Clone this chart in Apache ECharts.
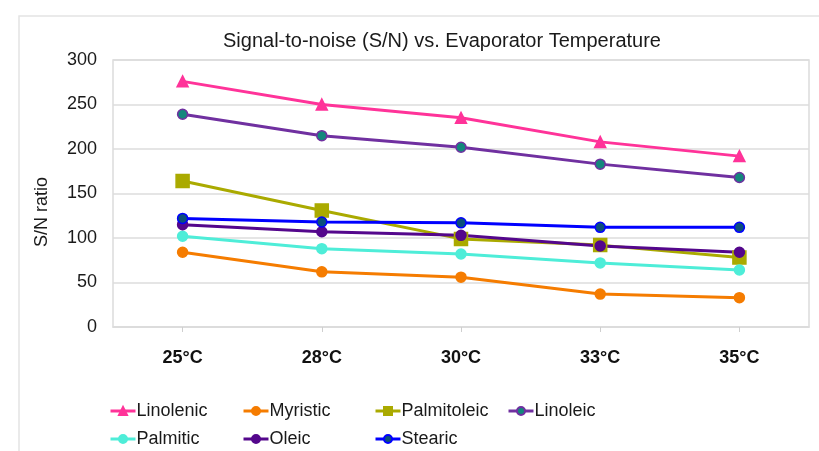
<!DOCTYPE html>
<html>
<head>
<meta charset="utf-8">
<script src="https://cdn.jsdelivr.net/npm/echarts@6/dist/echarts.min.js"></script>
<style>
html,body{margin:0;padding:0;background:#fff;}
#chart{width:819px;height:451px;}
</style>
</head>
<body>
<div id="chart"></div>
<script>
const categories = ['25°C', '28°C', '30°C', '33°C', '35°C'];
const linolenic   = [276, 250, 235, 208, 192];
const myristic    = [84, 62, 56, 37, 33];
const palmitoleic = [164, 131, 99, 92, 78];
const linoleic    = [239, 215, 202, 183, 168];
const palmitic    = [102, 88, 82, 72, 64];
const oleic       = [115, 107, 103, 91, 84];
const stearic     = [122, 118, 117, 112, 112];

const FONT = '"Liberation Sans", Arial, sans-serif';

const seriesDefs = [
  {name: 'Linolenic', data: linolenic, line: '#FF3399', fill: '#FF3399', border: '#FF3399', symbol: 'triangle', size: 11},
  {name: 'Myristic', data: myristic, line: '#F57C00', fill: '#F57C00', border: '#F57C00', symbol: 'circle', size: 10},
  {name: 'Palmitoleic', data: palmitoleic, line: '#AAAA00', fill: '#AAAA00', border: '#AAAA00', symbol: 'rect', size: 13},
  {name: 'Linoleic', data: linoleic, line: '#7030A0', fill: '#13877C', border: '#7030A0', symbol: 'circle', size: 10},
  {name: 'Palmitic', data: palmitic, line: '#4EEDD8', fill: '#4EEDD8', border: '#4EEDD8', symbol: 'circle', size: 10},
  {name: 'Oleic', data: oleic, line: '#54078C', fill: '#54078C', border: '#54078C', symbol: 'circle', size: 10},
  {name: 'Stearic', data: stearic, line: '#0000FF', fill: '#0B4F7A', border: '#0000FF', symbol: 'circle', size: 10}
];

const legendPos = [
  [109, 410], [242, 410], [374, 410], [507, 410],
  [109, 438], [242, 438], [374, 438]
];

const chart = echarts.init(document.getElementById('chart'), null, {renderer: 'canvas'});

const option = {
  backgroundColor: '#fff',
  animation: false,
  title: {
    text: 'Signal-to-noise (S/N) vs. Evaporator Temperature',
    left: 442, top: 31, textAlign: 'center',
    padding: 0,
    textStyle: {fontFamily: FONT, fontSize: 20, fontWeight: 'normal', color: '#1a1a1a'}
  },
  graphic: [
    {type: 'rect', shape: {x: 19, y: 16, width: 900, height: 500}, style: {fill: 'none', stroke: '#e4e4e4', lineWidth: 1.5}, silent: true, z: -10},
    {type: 'text', x: 42, y: 212, rotation: Math.PI / 2,
     style: {text: 'S/N ratio', fontFamily: FONT, fontSize: 18, fill: '#1a1a1a', align: 'center', verticalAlign: 'middle'}}
  ],
  legend: seriesDefs.map((s, i) => ({
    data: [s.name],
    left: legendPos[i][0], top: legendPos[i][1] - 8,
    padding: 0, itemWidth: 25, itemHeight: 10, itemGap: 0, itemTextGap: 2,
    lineStyle: {width: 3},
    textStyle: {fontFamily: FONT, fontSize: 18, color: '#1a1a1a', padding: [0, 0, 0, -4]}
  })),
  grid: {
    left: 113, right: 10, top: 60, bottom: 124,
    show: true, borderColor: '#dcdcdc', borderWidth: 1.5, containLabel: false
  },
  xAxis: {
    type: 'category', data: categories, boundaryGap: true,
    axisLine: {show: true, lineStyle: {color: '#dcdcdc', width: 1.5}},
    axisTick: {show: true, alignWithLabel: true, length: 5, lineStyle: {color: '#cfcfcf', width: 1}},
    axisLabel: {fontFamily: FONT, fontSize: 18, fontWeight: 'bold', color: '#111', margin: 22}
  },
  yAxis: {
    type: 'value', min: 0, max: 300, interval: 50,
    axisLine: {show: false}, axisTick: {show: false},
    splitLine: {show: true, lineStyle: {color: '#dcdcdc', width: 1.5}},
    axisLabel: {fontFamily: FONT, fontSize: 18, color: '#1a1a1a', margin: 16}
  },
  series: seriesDefs.map(s => ({
    name: s.name, type: 'line', data: s.data,
    symbol: s.symbol, symbolSize: s.size, showSymbol: true,
    lineStyle: {color: s.line, width: 3},
    itemStyle: {color: s.fill, borderColor: s.border, borderWidth: 1.5},
    emphasis: {disabled: true}
  }))
};

chart.setOption(option);
</script>
</body>
</html>
